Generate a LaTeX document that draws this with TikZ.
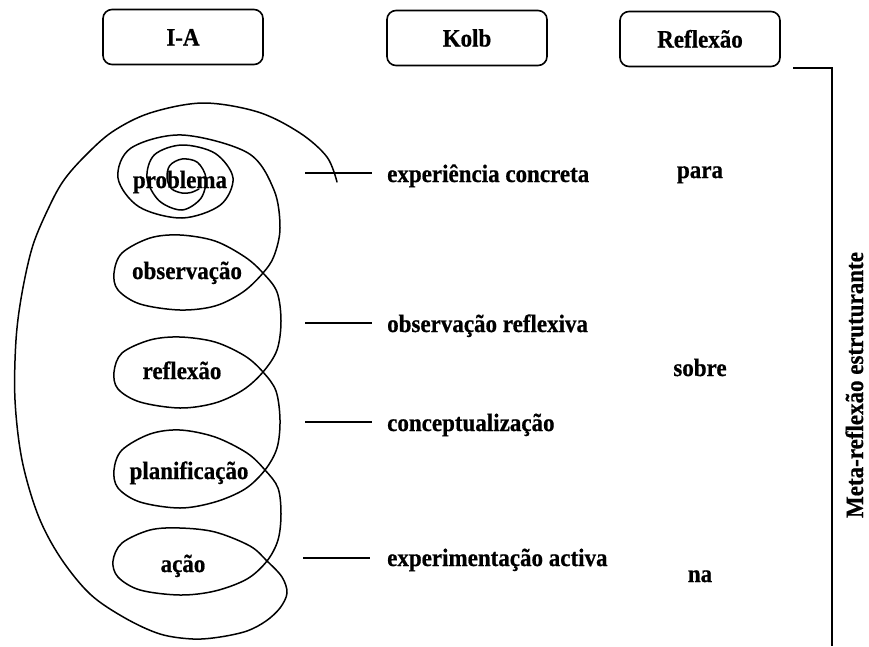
\documentclass[tikz,border=0pt]{standalone}
\usepackage{fontspec}
\setmainfont{Liberation Serif}
\newfontfamily\lblfont[FakeStretch=0.92,FakeBold=0.6]{Liberation Serif}
\begin{document}
\begin{tikzpicture}[x=1pt,y=-1pt,
  lbl/.style={font=\lblfont\bfseries\fontsize{25}{28}\selectfont, inner sep=0pt},
  word/.style={lbl, anchor=base},
  kolbtxt/.style={lbl, anchor=base west},
  hdr/.style={draw, line width=1.6pt, rounded corners=9pt, minimum width=160pt,
    minimum height=55pt, lbl, text height=17pt, text depth=0pt},
  curve/.style={line width=1.5pt, line join=round, line cap=round},
  tick/.style={line width=1.7pt}]
\useasboundingbox[fill=white] (0,0) rectangle (869,646);

% header boxes
\node[hdr] (ia) at (183,37) {I-A};
\node[hdr] (kolb) at (467,38) {Kolb};
\node[hdr] (refl) at (700,39) {Reflexão};

% bracket and vertical label
\coordinate (bA) at (793,68);
\coordinate (bB) at (832,68);
\coordinate (bC) at (832,646);
\draw[tick] (bA) -- (bB) -- (bC);
\node[lbl, rotate=90, anchor=base] (meta) at (863,385) {Meta-reflexão estruturante};

% reflexao column
\node[word] (para) at (700,178) {para};
\node[word] (sobre) at (700,376) {sobre};
\node[word] (na) at (700,582) {na};

% Kolb column
\coordinate (l1a) at (305,173); \coordinate (l1b) at (372,173);
\coordinate (l2a) at (305,323); \coordinate (l2b) at (372,323);
\coordinate (l3a) at (305,422); \coordinate (l3b) at (372,422);
\coordinate (l4a) at (303,558); \coordinate (l4b) at (370,558);
\draw[tick] (l1a) -- (l1b);
\draw[tick] (l2a) -- (l2b);
\draw[tick] (l3a) -- (l3b);
\draw[tick] (l4a) -- (l4b);
\node[kolbtxt] (k1) at (387,182) {experiência concreta};
\node[kolbtxt] (k2) at (387,332) {observação reflexiva};
\node[kolbtxt] (k3) at (387,431) {conceptualização};
\node[kolbtxt] (k4) at (387,566) {experimentação activa};

% I-A words
\node[word] (w1) at (180,188) {problema};
\node[word] (w2) at (187,279) {observação};
\node[word] (w3) at (182,379) {reflexão};
\node[word] (w4) at (189,479) {planificação};
\node[word] (w5) at (183,572) {ação};

% spiral / coil
\draw[curve] plot[smooth, tension=0.55] coordinates {
(199,189) (191,192.5) (182,193) (171.6,188.8) (167,178) (169.8,165.5)
(182,159) (197.4,162.3) (206,178) (200.9,198.3) (182,210) (159.2,200.8)
(147,178) (154.4,154.8) (182,145) (215.2,153.4) (233,178) (220.4,205)
(182,218) (139,206.8) (118,178) (130.9,148.1) (182,135) (248,153)
(274,190) (280,228) (274,256)
(263,273)
(243,292) (215,306) (180,310) (140,304) (118,290) (114,273) (122,253)
(150,238) (180,235) (215,241) (245,257) (263,273)
(277,292) (281,321) (277,350)
(263,372)
(243,390) (215,403) (180,408) (140,402) (118,389) (114,372) (122,353)
(150,340) (180,337) (215,342) (245,356) (263,372)
(276,391) (280,420) (277,448)
(265,470)
(245,489) (215,502) (180,508) (140,502) (118,488) (114,470) (122,450)
(150,434) (180,430) (215,437) (247,453) (265,470)
(278,488) (281,514) (278,540)
(267,561)
(247,579) (215,591) (180,595) (140,590) (118,577) (113,561) (122,543)
(150,530) (180,528) (215,532) (250,546) (267,561)
(282,577) (287,593) (280,608) (266,621) (247,631) (220,637) (193,639)
(160,634) (125,618) (90,594) (60,557) (38,515) (22,460) (15,400)
(16,340) (22,293) (33,245) (50,205) (64,180) (84,157) (112,132)
(150,113) (203,103) (258,112) (300,133) (327,157) (337,182)
};
\end{tikzpicture}
\end{document}
